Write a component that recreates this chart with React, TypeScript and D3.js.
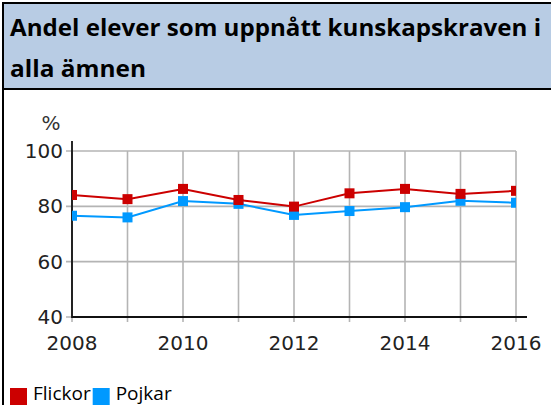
import * as d3 from 'd3';
import React, { useEffect, useRef } from 'react';

// data
const years = [2008, 2009, 2010, 2011, 2012, 2013, 2014, 2015, 2016];
const flickor = [84.1, 82.6, 86.3, 82.3, 79.9, 84.7, 86.3, 84.5, 85.6];
const pojkar = [76.6, 76.0, 81.9, 80.9, 76.9, 78.3, 79.7, 82.0, 81.3];
const yTicks = [40, 60, 80, 100];
const xTicks = [2008, 2010, 2012, 2014, 2016];
const titleLines = ['Andel elever som uppnått kunskapskraven i', 'alla ämnen'];
const legendItems = [
  { name: 'Flickor', color: '#cc0000' },
  { name: 'Pojkar', color: '#0099ff' },
];

const App = () => {
  const ref = useRef<SVGSVGElement>(null);

  useEffect(() => {
    if (!ref.current) return;
    const svg = d3.select(ref.current);
    svg.selectAll('*').remove();

    const W = 551, H = 405;
    const plot = { left: 72, right: 516, top: 151, bottom: 317 };

    // header box
    svg.append('rect').attr('x', 0).attr('y', 0).attr('width', W).attr('height', H).attr('fill', '#fff');
    svg.append('rect').attr('x', 4).attr('y', 4).attr('width', W - 4).attr('height', 84).attr('fill', '#b8cce4');
    svg.append('rect').attr('x', 2).attr('y', 2).attr('width', W - 2).attr('height', 2).attr('fill', '#000');
    svg.append('rect').attr('x', 2).attr('y', 2).attr('width', 2).attr('height', H - 2).attr('fill', '#000');
    svg.append('rect').attr('x', 2).attr('y', 88).attr('width', W - 2).attr('height', 2).attr('fill', '#000');

    svg.selectAll('text.title')
      .data(titleLines)
      .join('text')
      .attr('class', 'title')
      .attr('x', 10)
      .attr('y', (d, i) => 36 + i * 41)
      .attr('font-family', '"Open Sans", "Noto Sans", sans-serif')
      .attr('font-weight', 'bold')
      .attr('font-size', 23)
      .attr('fill', '#000')
      .attr('textLength', (d, i) => (i === 0 ? 531 : 136))
      .attr('lengthAdjust', 'spacingAndGlyphs')
      .text(d => d);

    const x = d3.scaleLinear().domain([2008, 2016]).range([plot.left, plot.right]);
    const y = d3.scaleLinear().domain([40, 100]).range([plot.bottom, plot.top]);

    // grid
    svg.append('g')
      .selectAll('line')
      .data(years)
      .join('line')
      .attr('x1', d => x(d)).attr('x2', d => x(d))
      .attr('y1', plot.top).attr('y2', plot.bottom + 5)
      .attr('stroke', '#b4b4b4').attr('stroke-width', 1.6);

    svg.append('g')
      .selectAll('line')
      .data(yTicks)
      .join('line')
      .attr('x1', plot.left - 6).attr('x2', plot.right)
      .attr('y1', d => y(d)).attr('y2', d => y(d))
      .attr('stroke', '#b4b4b4').attr('stroke-width', 1.6);

    // axes
    svg.append('line')
      .attr('x1', plot.left).attr('x2', plot.left)
      .attr('y1', plot.top - 10).attr('y2', plot.bottom + 1)
      .attr('stroke', '#111').attr('stroke-width', 1.8);
    svg.append('line')
      .attr('x1', plot.left).attr('x2', plot.right + 11)
      .attr('y1', plot.bottom).attr('y2', plot.bottom)
      .attr('stroke', '#111').attr('stroke-width', 1.8);

    const axisFont = '"DejaVu Sans", Verdana, sans-serif';
    svg.append('g')
      .selectAll('text')
      .data(yTicks)
      .join('text')
      .attr('x', plot.left - 9)
      .attr('y', d => y(d) + 7)
      .attr('text-anchor', 'end')
      .attr('font-family', axisFont)
      .attr('font-size', 20)
      .attr('fill', '#222')
      .text(d => d);

    svg.append('g')
      .selectAll('text')
      .data(xTicks)
      .join('text')
      .attr('x', d => x(d))
      .attr('y', 350)
      .attr('text-anchor', 'middle')
      .attr('font-family', axisFont)
      .attr('font-size', 20)
      .attr('fill', '#222')
      .text(d => d);

    svg.append('text')
      .attr('x', 51).attr('y', 130)
      .attr('text-anchor', 'middle')
      .attr('font-family', axisFont)
      .attr('font-size', 20)
      .attr('fill', '#333')
      .text('%');

    // series, clipped to the plot area
    svg.append('clipPath').attr('id', 'plotclip')
      .append('rect')
      .attr('x', plot.left).attr('y', plot.top - 20)
      .attr('width', plot.right - plot.left).attr('height', plot.bottom - plot.top + 20);

    const series = [
      { values: pojkar, color: legendItems[1].color },
      { values: flickor, color: legendItems[0].color },
    ];
    const line = d3.line<number>().x((d, i) => x(years[i])).y(d => y(d));
    const g = svg.append('g').attr('clip-path', 'url(#plotclip)');
    series.forEach(s => {
      g.append('path')
        .attr('d', line(s.values))
        .attr('fill', 'none')
        .attr('stroke', s.color)
        .attr('stroke-width', 2);
      g.selectAll(null)
        .data(s.values)
        .join('rect')
        .attr('x', (d, i) => x(years[i]) - 5)
        .attr('y', d => y(d) - 5)
        .attr('width', 10).attr('height', 10)
        .attr('fill', s.color);
    });

    // legend
    const legendFont = '"Open Sans", "Noto Sans", sans-serif';
    const lg = svg.append('g');
    let lx = 10;
    legendItems.forEach(item => {
      lg.append('rect').attr('x', lx).attr('y', 388).attr('width', 17).attr('height', 17).attr('fill', item.color);
      const t = lg.append('text')
        .attr('x', lx + 23).attr('y', 400)
        .attr('font-family', legendFont)
        .attr('font-size', 19)
        .attr('fill', '#000')
        .text(item.name);
      const w = (t.node() as SVGTextElement).getComputedTextLength();
      lx = lx + 23 + w + 2;
    });
  }, []);

  return (
    <svg ref={ref} width={551} height={405}
      style={{ position: 'absolute', left: 0, top: 0, display: 'block' }} />
  );
};

export default App;
